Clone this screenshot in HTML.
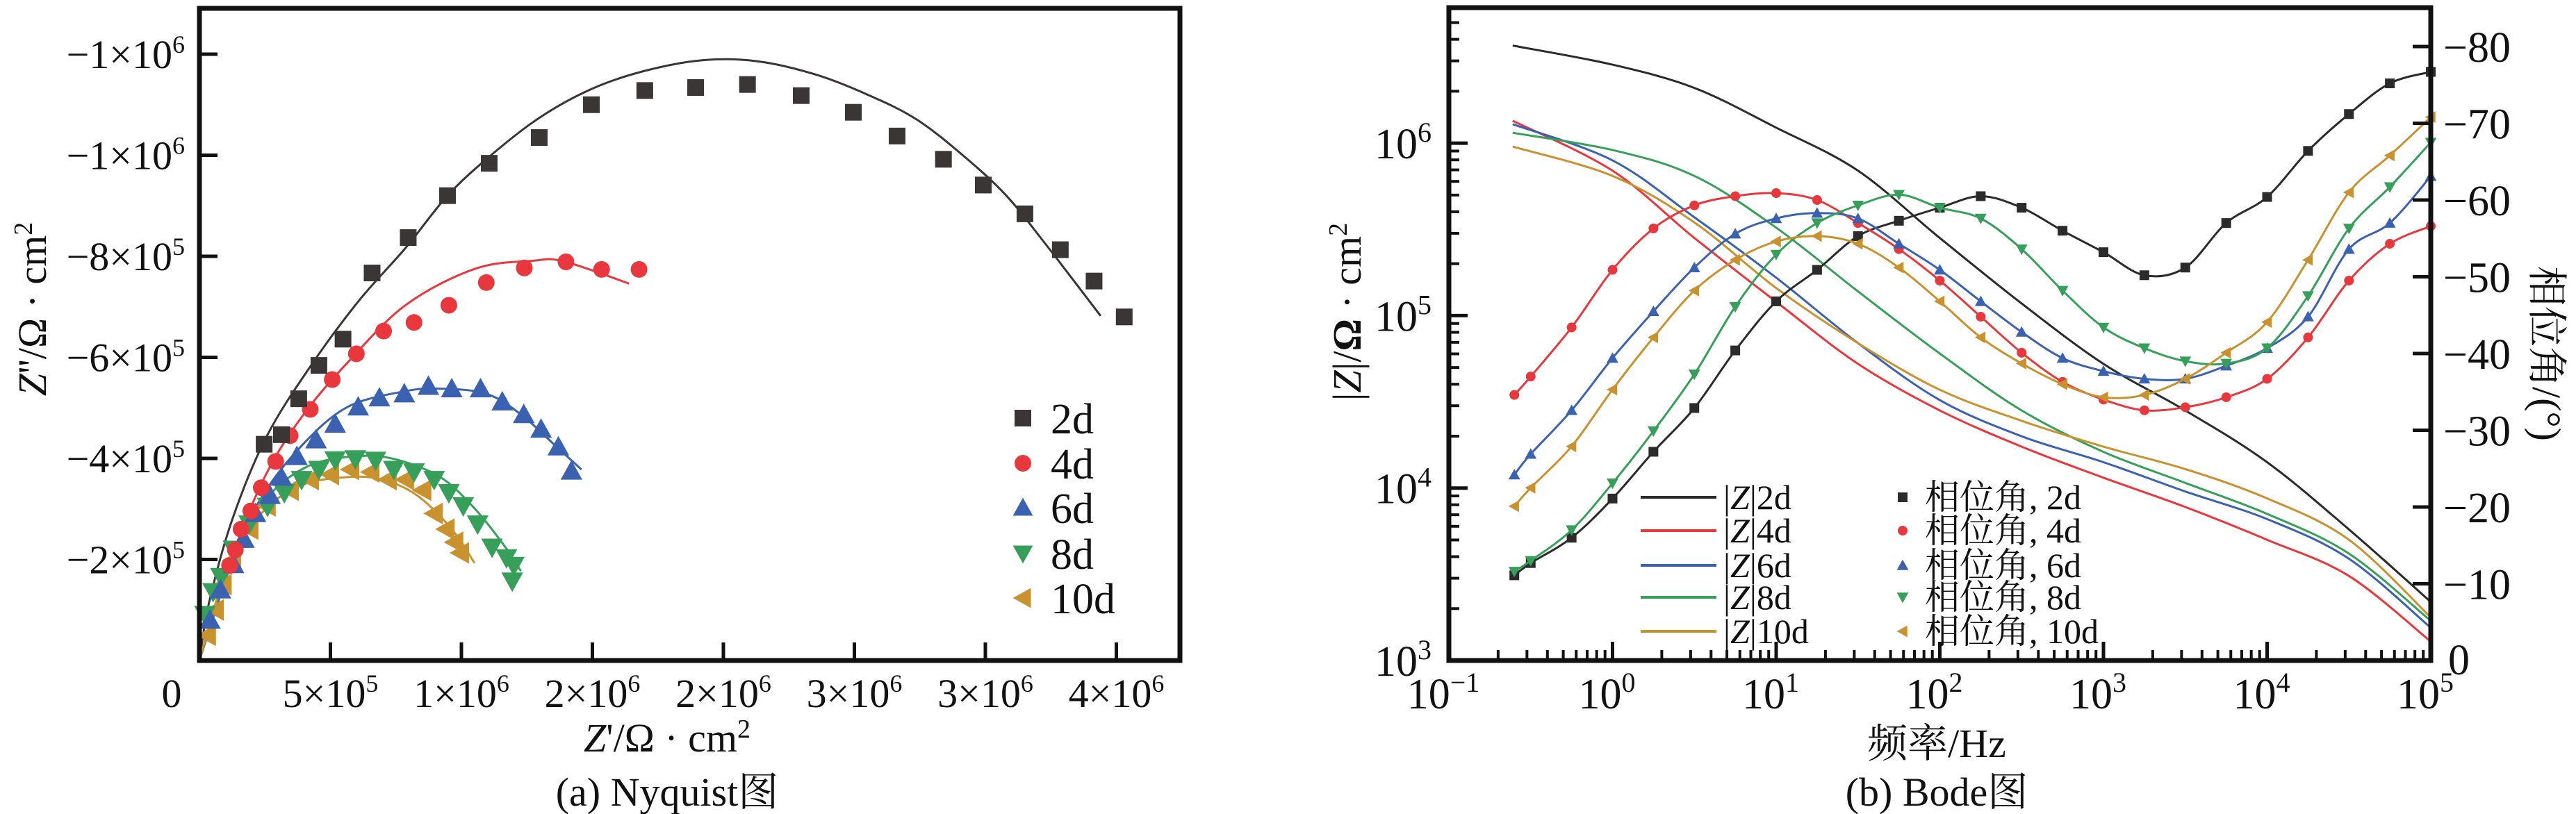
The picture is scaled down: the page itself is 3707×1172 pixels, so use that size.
<!DOCTYPE html>
<html><head><meta charset="utf-8"><style>
html,body{margin:0;padding:0;background:#fff;}
svg{display:block;}
text{font-family:"Liberation Serif","Noto Serif CJK SC","Noto Sans CJK SC",serif;fill:#111;}
</style></head><body>
<svg id="chart" xmlns="http://www.w3.org/2000/svg" width="3707" height="1172" viewBox="0 0 3707 1172">
<g id="nyq"></g>
<g id="bode"></g>
</svg>
<script>
// ---------- Nyquist data ----------
const nyqSeries = ["2d","4d","6d","8d","10d"];
const nyqColors = ["#3a3636","#e8383d","#3a62b0","#36a05a","#c8922e"];
const nyqMarkers = ["square","circle","up","down","left"];
const nyq2dX = [2.47e5,3.13e5,3.79e5,4.56e5,5.48e5,6.59e5,7.97e5,9.47e5,1.106e6,1.297e6,1.496e6,1.70e6,1.894e6,2.092e6,2.297e6,2.496e6,2.663e6,2.84e6,2.992e6,3.151e6,3.286e6,3.415e6,3.53e6];
const nyq2dY = [4.28e5,4.47e5,5.18e5,5.84e5,6.36e5,7.67e5,8.37e5,9.20e5,9.84e5,1.035e6,1.10e6,1.128e6,1.134e6,1.140e6,1.118e6,1.085e6,1.038e6,9.92e5,9.41e5,8.84e5,8.13e5,7.51e5,6.80e5];
const nyq4dX = [1.15e5,1.37e5,1.59e5,1.96e5,2.36e5,2.91e5,3.46e5,4.23e5,5.07e5,5.99e5,7.03e5,8.19e5,9.52e5,1.095e6,1.24e6,1.399e6,1.535e6,1.678e6];
const nyq4dY = [1.88e5,2.19e5,2.6e5,2.96e5,3.42e5,3.94e5,4.45e5,4.97e5,5.56e5,6.07e5,6.52e5,6.69e5,7.03e5,7.48e5,7.77e5,7.89e5,7.74e5,7.74e5];
const nyq6dX = [4e4,8e4,1.3e5,1.7e5,2.14e5,2.69e5,3.13e5,3.72e5,4.45e5,5.18e5,6.06e5,6.87e5,7.82e5,8.74e5,9.63e5,1.073e6,1.156e6,1.238e6,1.304e6,1.37e6,1.42e6];
const nyq6dY = [8e4,1.4e5,1.9e5,2.4e5,2.91e5,3.27e5,3.63e5,4.04e5,4.37e5,4.68e5,5.02e5,5.2e5,5.28e5,5.43e5,5.38e5,5.38e5,5.12e5,4.87e5,4.58e5,4.23e5,3.75e5];
const nyq8dX = [2.1e4,5.2e4,8.2e4,1.3e5,1.9e5,2.6e5,3.24e5,3.9e5,4.56e5,5.18e5,5.95e5,6.72e5,7.42e5,8.19e5,8.96e5,9.52e5,1.007e6,1.062e6,1.117e6,1.172e6,1.2e6,1.194e6];
const nyq8dY = [9.1e4,1.36e5,1.66e5,2.2e5,2.7e5,3.05e5,3.32e5,3.58e5,3.78e5,3.97e5,3.99e5,3.96e5,3.78e5,3.73e5,3.58e5,3.32e5,3.06e5,2.7e5,2.24e5,2.03e5,1.88e5,1.57e5];
const nyq10dX = [3e4,6e4,9e4,1.26e5,1.92e5,2.58e5,3.46e5,4.23e5,5.0e5,5.77e5,6.54e5,7.2e5,7.86e5,8.52e5,8.96e5,9.41e5,9.74e5,9.96e5];
const nyq10dY = [5e4,1.0e5,1.5e5,1.98e5,2.6e5,3.06e5,3.37e5,3.58e5,3.68e5,3.78e5,3.73e5,3.58e5,3.58e5,3.37e5,2.91e5,2.6e5,2.34e5,2.13e5];
const fit2dX = [0,3.7e4,1.26e5,2.58e5,4.34e5,6.1e5,7.86e5,9.47e5,1.106e6,1.297e6,1.496e6,1.70e6,1.92e6,2.13e6,2.35e6,2.55e6,2.74e6,2.925e6,3.08e6,3.23e6,3.44e6];
const fit2dY = [0,1.15e5,2.8e5,4.45e5,5.9e5,7.13e5,8.16e5,9.2e5,9.97e5,1.074e6,1.131e6,1.167e6,1.188e6,1.186e6,1.16e6,1.12e6,1.07e6,9.95e5,9.2e5,8.24e5,6.82e5];
const fit4dX = [0,8.1e4,1.70e5,2.80e5,4.12e5,5.66e5,7.86e5,1.05e6,1.27e6,1.39e6,1.64e6];
const fit4dY = [0,1.36e5,2.70e5,3.94e5,4.97e5,5.9e5,7.03e5,7.75e5,7.91e5,7.90e5,7.46e5];
const fit6dX = [0,1.26e5,2.36e5,3.9e5,5.66e5,7.86e5,9.19e5,1.095e6,1.227e6,1.359e6,1.458e6];
const fit6dY = [0,1.98e5,3.22e5,4.25e5,5.02e5,5.33e5,5.38e5,5.28e5,4.87e5,4.25e5,3.78e5];
const fit8dX = [0,1.26e5,2.58e5,4.12e5,5.88e5,7.42e5,9.19e5,1.05e6,1.161e6,1.227e6];
const fit8dY = [0,2.08e5,3.22e5,3.84e5,4.04e5,3.99e5,3.63e5,3.01e5,2.29e5,1.77e5];
const fit10dX = [0,1.04e5,2.36e5,3.9e5,5.66e5,6.98e5,8.3e5,9.63e5,1.05e6];
const fit10dY = [0,1.77e5,2.91e5,3.47e5,3.63e5,3.58e5,3.27e5,2.6e5,1.93e5];
const nyqXTicks = [5e5,1e6,1.5e6,2e6,2.5e6,3e6,3.5e6];
const nyqXTickLabels = [["5","5"],["1","6"],["2","6"],["2","6"],["3","6"],["3","6"],["4","6"]];
const nyqYTicks = [2e5,4e5,6e5,8e5,1e6,1.2e6];
const nyqYTickLabels = [["2","5"],["4","5"],["6","5"],["8","5"],["1","6"],["1","6"]];

// ---------- Bode data ----------
const bodeSeries = ["2d","4d","6d","8d","10d"];
const bodeColors = ["#2b2b2b","#e8383d","#3a62b0","#36a05a","#c8922e"];
const zLogF = [-0.61,0,0.5,1,1.5,2,2.5,3,3.5,4,4.5,5];
const z2d = [6.566,6.455,6.32,6.09,5.84,5.45,5.07,4.72,4.45,4.15,3.76,3.34];
const z4d = [6.13,5.84,5.45,5.08,4.72,4.45,4.24,4.06,3.89,3.70,3.49,3.11];
const z6d = [6.11,5.90,5.57,5.22,4.84,4.51,4.30,4.15,3.98,3.82,3.59,3.19];
const z8d = [6.06,5.96,5.81,5.51,5.14,4.78,4.45,4.21,4.03,3.85,3.62,3.23];
const z10d = [5.98,5.81,5.54,5.16,4.84,4.57,4.39,4.24,4.11,3.94,3.70,3.25];
const pLogF = [-0.6,-0.5,-0.25,0,0.25,0.5,0.75,1,1.25,1.5,1.75,2,2.25,2.5,2.75,3,3.25,3.5,3.75,4,4.25,4.5,4.75,5];
const p2d = [11.1,12.7,16.0,21.1,27.2,32.9,40.4,46.8,50.9,55.3,57.3,59.0,60.5,59.0,56.0,53.2,50.2,51.2,57.0,60.4,66.4,71.2,75.2,76.7];
const p4d = [34.6,37.0,43.4,50.9,56.3,59.3,60.5,60.9,60.0,57.0,53.6,49.5,44.8,40.1,36.3,34.0,32.6,33.0,34.3,36.7,42.1,49.5,54.3,56.6];
const p6d = [24.2,26.9,32.6,39.4,45.5,51.2,55.6,57.6,58.3,57.6,54.3,50.9,46.8,42.8,39.4,37.7,36.7,36.7,38.4,40.7,44.8,53.6,57.0,63.1];
const p8d = [11.6,13.0,17.0,23.1,29.9,37.3,46.1,52.9,57.0,59.3,60.7,59.0,57.6,53.6,48.2,43.4,40.7,39.0,38.7,40.7,47.5,56.3,61.7,67.5];
const p10d = [20.1,22.5,27.9,35.3,42.1,48.2,52.2,54.6,55.3,54.3,51.2,46.8,42.1,38.7,36.0,34.3,34.6,36.7,40.1,44.1,52.2,61.0,65.8,70.8];
const freqTicks = [-1,0,1,2,3,4,5];
const zTicks = [3,4,5,6];
const phaseTicks = [0,10,20,30,40,50,60,70,80];

const NS="http://www.w3.org/2000/svg";
function mk(parent,tag,attrs){const e=document.createElementNS(NS,tag);for(const k in attrs)e.setAttribute(k,attrs[k]);parent.appendChild(e);return e;}
function smooth(pts){if(pts.length<2)return"";let d="M"+pts[0][0].toFixed(1)+","+pts[0][1].toFixed(1);
 for(let i=0;i<pts.length-1;i++){const p0=pts[Math.max(0,i-1)],p1=pts[i],p2=pts[i+1],p3=pts[Math.min(pts.length-1,i+2)];
 const c1=[p1[0]+(p2[0]-p0[0])/6,p1[1]+(p2[1]-p0[1])/6],c2=[p2[0]-(p3[0]-p1[0])/6,p2[1]-(p3[1]-p1[1])/6];
 d+=" C"+c1[0].toFixed(1)+","+c1[1].toFixed(1)+" "+c2[0].toFixed(1)+","+c2[1].toFixed(1)+" "+p2[0].toFixed(1)+","+p2[1].toFixed(1);}return d;}
function marker(parent,type,x,y,s,color){let e;
 if(type==="square")e=mk(parent,"rect",{x:x-s/2,y:y-s/2,width:s,height:s,fill:color});
 else if(type==="circle")e=mk(parent,"circle",{cx:x,cy:y,r:s/2,fill:color});
 else{const h=s*0.6;let p;
  if(type==="up")p=[[x,y-h],[x-h,y+h*0.8],[x+h,y+h*0.8]];
  else if(type==="down")p=[[x,y+h],[x-h,y-h*0.8],[x+h,y-h*0.8]];
  else p=[[x-h,y],[x+h*0.8,y-h],[x+h*0.8,y+h]];
  e=mk(parent,"polygon",{points:p.map(q=>q.join(",")).join(" "),fill:color});}
 return e;}
function powLabel(parent,x,y,base,exp,size,anchor,name,prefix){
 const t=mk(parent,"text",{x:x,y:y,"font-size":size,"text-anchor":anchor});
 
 
 const a=document.createElementNS(NS,"tspan");a.textContent=(prefix||"")+base+"×10";t.appendChild(a);
 const b=document.createElementNS(NS,"tspan");b.setAttribute("dy",-size*0.38);b.setAttribute("font-size",size*0.62);b.textContent=exp;t.appendChild(b);
 return t;}

// ---------- Nyquist ----------
(function(){
 const g=document.getElementById("nyq");
 const L=287,R=1698,T=12,B=951;
 const X=v=>L+v/5e5*188.5, Y=v=>B-v/2e5*145.5;
 const fx=[fit2dX,fit4dX,fit6dX,fit8dX,fit10dX], fy=[fit2dY,fit4dY,fit6dY,fit8dY,fit10dY];
 const dx=[nyq2dX,nyq4dX,nyq6dX,nyq8dX,nyq10dX], dy=[nyq2dY,nyq4dY,nyq6dY,nyq8dY,nyq10dY];
 const msz=[24,24,26,26,26];
 for(let s=0;s<5;s++){
  const l=mk(g,"path",{d:smooth(fx[s].map((v,i)=>[X(v),Y(fy[s][i])])),fill:"none",stroke:nyqColors[s],"stroke-width":3});
  
  
 }
 for(let s=4;s>=0;s--){
  for(let i=0;i<dx[s].length;i++){
   const m=marker(g,nyqMarkers[s],X(dx[s][i]),Y(dy[s][i]),msz[s],nyqColors[s]);
   
   
  }
 }
 const fr=mk(g,"rect",{x:L,y:T,width:R-L,height:B-T,fill:"none",stroke:"#111","stroke-width":7});
 
 
 nyqXTicks.forEach((v,i)=>{
  const t=mk(g,"line",{x1:X(v),x2:X(v),y1:B,y2:B-26,stroke:"#111","stroke-width":5});
  
  
  powLabel(g,X(v),1018,nyqXTickLabels[i][0],nyqXTickLabels[i][1],58,"middle","x-tick-label");
 });
 const z0=mk(g,"text",{x:247,y:1018,"font-size":58,"text-anchor":"middle"});z0.textContent="0";
 
 
 nyqYTicks.forEach((v,i)=>{
  const t=mk(g,"line",{x1:L,x2:L+26,y1:Y(v),y2:Y(v),stroke:"#111","stroke-width":5});
  
  
  powLabel(g,266,Y(v)+20,nyqYTickLabels[i][0],nyqYTickLabels[i][1],58,"end","y-tick-label","−");
 });
 const yt=mk(g,"text",{x:0,y:0,"font-size":58,"text-anchor":"middle",transform:"translate(66,445) rotate(-90)"});
 yt.innerHTML='<tspan font-style="italic">Z</tspan>\'\'/Ω · cm<tspan dy="-20" font-size="38">2</tspan>';
 
 
 const xt=mk(g,"text",{x:960,y:1082,"font-size":58,"text-anchor":"middle"});
 xt.innerHTML='<tspan font-style="italic">Z</tspan>\'/Ω · cm<tspan dy="-20" font-size="38">2</tspan>';
 
 
 const cp=mk(g,"text",{x:960,y:1160,"font-size":58,"text-anchor":"middle"});cp.textContent="(a) Nyquist图";
 
 
 const ly=[602,667,731,797,861];
 for(let s=0;s<5;s++){
  const m=marker(g,nyqMarkers[s],1472,ly[s],24,nyqColors[s]);
  
  
  const t=mk(g,"text",{x:1512,y:ly[s]+22,"font-size":62});t.textContent=nyqSeries[s];
  
  
 }
})();

// ---------- Bode ----------
(function(){
 const g=document.getElementById("bode");
 const L=2085,R=3498,T=11,B=951;
 const X=lf=>L+(lf+1)*235.5, YL=lz=>B-(lz-3)*248.3, YR=d=>B-d*11.05;
 const zs=[z2d,z4d,z6d,z8d,z10d], ps=[p2d,p4d,p6d,p8d,p10d];
 const mk2=["square","circle","up","down","left"];
 for(let s=0;s<5;s++){
  const l=mk(g,"path",{d:smooth(zLogF.map((f,i)=>[X(f),YL(zs[s][i])])),fill:"none",stroke:bodeColors[s],"stroke-width":3});
  
  
 }
 for(let s=0;s<5;s++){
  const l=mk(g,"path",{d:smooth(pLogF.map((f,i)=>[X(f),YR(ps[s][i])])),fill:"none",stroke:bodeColors[s],"stroke-width":3});
  
  
  for(let i=0;i<pLogF.length;i++){
   const m=marker(g,mk2[s],X(pLogF[i]),YR(ps[s][i]),14,bodeColors[s]);
   
   
  }
 }
 const fr=mk(g,"rect",{x:L,y:T,width:R-L,height:B-T,fill:"none",stroke:"#111","stroke-width":7});
 
 
 freqTicks.forEach(e=>{
  const t=mk(g,"line",{x1:X(e),x2:X(e),y1:B,y2:B-27,stroke:"#111","stroke-width":5});
  
  
  if(e<5)for(let k=2;k<10;k++){const xx=X(e+Math.log10(k));
   const mt=mk(g,"line",{x1:xx,x2:xx,y1:B,y2:B-15,stroke:"#111","stroke-width":4});
   
   }
  const lb=mk(g,"text",{x:X(e)-8,y:1020,"font-size":62,"text-anchor":"middle"});
  lb.innerHTML='10<tspan dy="-24" font-size="40">'+(e<0?'−1':e)+'</tspan>';
  
  
 });
 zTicks.forEach(e=>{
  const t=mk(g,"line",{x1:L,x2:L+27,y1:YL(e),y2:YL(e),stroke:"#111","stroke-width":5});
  
  
  for(let k=2;k<10;k++){const yy=YL(e+Math.log10(k));if(yy<T+5)break;
   const mt=mk(g,"line",{x1:L,x2:L+15,y1:yy,y2:yy,stroke:"#111","stroke-width":4});
   
   }
  const lb=mk(g,"text",{x:2060,y:YL(e)+22,"font-size":62,"text-anchor":"end"});
  lb.innerHTML='10<tspan dy="-24" font-size="40">'+e+'</tspan>';
  
  
 });
 phaseTicks.forEach(d=>{
  if(d>0){const t=mk(g,"line",{x1:R,x2:R-26,y1:YR(d),y2:YR(d),stroke:"#111","stroke-width":5});
  
  }
  const lb=mk(g,"text",{x:d===0?3523:3516,y:YR(d)+(d===0?20:22),"font-size":62});
  lb.textContent=d===0?"0":"−"+d;
  
  
 });
 const yl=mk(g,"text",{x:0,y:0,"font-size":58,"text-anchor":"middle",transform:"translate(1958,449) rotate(-90)"});
 yl.innerHTML='|<tspan font-style="italic">Z</tspan>|/<tspan font-weight="bold">Ω</tspan> · cm<tspan dy="-20" font-size="38">2</tspan>';
 
 
 const yr=mk(g,"text",{x:0,y:0,"font-size":58,"text-anchor":"middle",transform:"translate(3645,509) rotate(90)"});
 yr.textContent="相位角/(°)";
 
 
 const xt=mk(g,"text",{x:2787,y:1090,"font-size":58,"text-anchor":"middle"});xt.textContent="频率/Hz";
 
 
 const cp=mk(g,"text",{x:2787,y:1160,"font-size":58,"text-anchor":"middle"});cp.textContent="(b) Bode图";
 
 
 const ly=[716,764,814,860,909];
 for(let s=0;s<5;s++){
  const ln=mk(g,"line",{x1:2361,x2:2470,y1:ly[s],y2:ly[s],stroke:bodeColors[s],"stroke-width":4});
  
  
  const t=mk(g,"text",{x:2480,y:ly[s]+17,"font-size":50});
  t.innerHTML='|<tspan font-style="italic">Z</tspan>|'+bodeSeries[s];
  
  
  const m=marker(g,mk2[s],2738,ly[s],14,bodeColors[s]);
  
  
  const t2=mk(g,"text",{x:2770,y:ly[s]+17,"font-size":50});
  t2.textContent="相位角, "+bodeSeries[s];
  
  
 }
})();
</script>
</body></html>
